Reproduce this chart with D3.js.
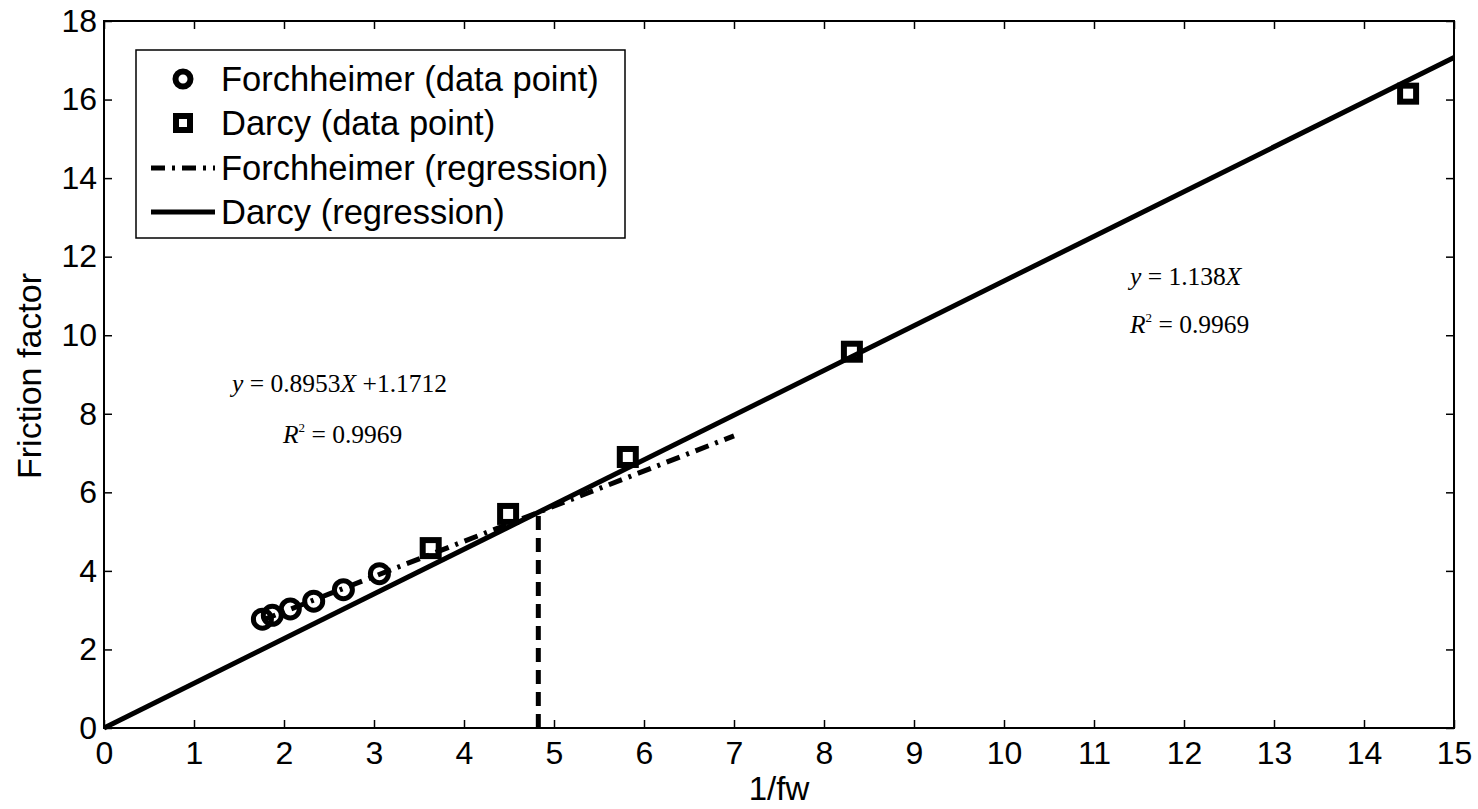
<!DOCTYPE html>
<html><head><meta charset="utf-8">
<script src="https://cdn.jsdelivr.net/npm/d3@7"></script>
<style>body{margin:0;background:#fff}</style>
</head><body>
<svg id="c" width="1478" height="809"></svg>
<script>
const forchX = [1.76, 1.87, 2.07, 2.33, 2.66, 3.06];
const forchY = [2.77, 2.87, 3.03, 3.23, 3.52, 3.93];
const darcyX = [3.63, 4.49, 5.82, 8.31, 14.49];
const darcyY = [4.58, 5.45, 6.90, 9.58, 16.15];
const darcySlope = 1.138;
const forchSlope = 0.8953, forchIntercept = 1.1712;
const forchRange = [1.76, 7.0];
const xTicks = d3.range(0, 16, 1);
const yTicks = d3.range(0, 19, 2);
const legendItems = ["Forchheimer (data point)", "Darcy (data point)", "Forchheimer (regression)", "Darcy (regression)"];

const svg = d3.select("#c");
const L = 104, R = 1454, T = 21, B = 728;
const x = d3.scaleLinear().domain([0, 15]).range([L, R]);
const y = d3.scaleLinear().domain([0, 18]).range([B, T]);
const font = "Arial, 'Liberation Sans', sans-serif";
const tickFont = 32;

// axes
const tl = 8;
svg.append("g").attr("transform", `translate(0,${B})`)
  .call(d3.axisBottom(x).tickValues(xTicks).tickSizeInner(-tl).tickSizeOuter(0).tickPadding(13))
  .call(g => g.select(".domain").remove())
  .call(g => g.selectAll("text").attr("font-size", tickFont).attr("font-family", font).attr("fill", "#000"));
svg.append("g").attr("transform", `translate(${L},0)`)
  .call(d3.axisLeft(y).tickValues(yTicks).tickSizeInner(-tl).tickSizeOuter(0).tickPadding(7))
  .call(g => g.select(".domain").remove())
  .call(g => g.selectAll("text").attr("font-size", tickFont).attr("font-family", font).attr("fill", "#000"));
svg.append("g").attr("transform", `translate(0,${T})`)
  .call(d3.axisTop(x).tickValues(xTicks).tickSizeInner(-tl).tickSizeOuter(0).tickFormat(""))
  .call(g => g.select(".domain").remove());
svg.append("g").attr("transform", `translate(${R},0)`)
  .call(d3.axisRight(y).tickValues(yTicks).tickSizeInner(-tl).tickSizeOuter(0).tickFormat(""))
  .call(g => g.select(".domain").remove());
svg.selectAll(".tick line").attr("stroke", "#000").attr("stroke-width", 1.5);
svg.append("rect").attr("x", L).attr("y", T).attr("width", R - L).attr("height", B - T)
  .attr("fill", "none").attr("stroke", "#000").attr("stroke-width", 2);

// axis labels
svg.append("text").attr("x", 779).attr("y", 800).attr("text-anchor", "middle")
  .attr("font-size", 33).attr("font-family", font).text("1/fw");
svg.append("text").attr("transform", `translate(41,376) rotate(-90)`).attr("text-anchor", "middle")
  .attr("font-size", 34).attr("font-family", font).text("Friction factor");

const line = d3.line().x(d => x(d[0])).y(d => y(d[1]));
// Darcy regression
svg.append("path").attr("d", line([[0, 0], [15, darcySlope * 15]]))
  .attr("stroke", "#000").attr("stroke-width", 5).attr("fill", "none");
// Forchheimer regression
svg.append("path").attr("d", line(forchRange.map(v => [v, forchSlope * v + forchIntercept])))
  .attr("stroke", "#000").attr("stroke-width", 5).attr("fill", "none").attr("stroke-dasharray", "14,7,3,7");
// vertical dashed line at intersection
const xi = forchIntercept / (darcySlope - forchSlope);
svg.append("path").attr("d", line([[xi, 0], [xi, darcySlope * xi]]))
  .attr("stroke", "#000").attr("stroke-width", 5).attr("fill", "none").attr("stroke-dasharray", "14,8");

// markers
svg.append("g").selectAll("circle").data(forchX.map((v, i) => [v, forchY[i]])).join("circle")
  .attr("cx", d => x(d[0])).attr("cy", d => y(d[1])).attr("r", 9)
  .attr("fill", "none").attr("stroke", "#000").attr("stroke-width", 5);
svg.append("g").selectAll("rect").data(darcyX.map((v, i) => [v, darcyY[i]])).join("rect")
  .attr("x", d => x(d[0]) - 8).attr("y", d => y(d[1]) - 8).attr("width", 16).attr("height", 16)
  .attr("fill", "none").attr("stroke", "#000").attr("stroke-width", 6);

// equations
const serif = "'Liberation Serif', 'Times New Roman', serif";
function eq(xp, yp, parts) {
  const t = svg.append("text").attr("x", xp).attr("y", yp).attr("font-family", serif).attr("font-size", 25.5);
  parts.forEach(p => {
    const s = t.append("tspan").text(p.t);
    if (p.i) s.attr("font-style", "italic");
    if (p.sup) s.attr("font-size", 13).attr("dy", -11);
    if (p.down) s.attr("dy", 11);
  });
}
eq(232, 392, [{t: "y", i: 1}, {t: " = 0.8953"}, {t: "X", i: 1}, {t: " +1.1712"}]);
eq(283, 443, [{t: "R", i: 1}, {t: "2", sup: 1}, {t: " = 0.9969", down: 1}]);
eq(1130, 285, [{t: "y", i: 1}, {t: " = 1.138"}, {t: "X", i: 1}]);
eq(1130, 333, [{t: "R", i: 1}, {t: "2", sup: 1}, {t: " = 0.9969", down: 1}]);

// legend
const lg = svg.append("g");
lg.append("rect").attr("x", 136).attr("y", 50).attr("width", 489).attr("height", 188)
  .attr("fill", "#fff").attr("stroke", "#000").attr("stroke-width", 1.5);
const rowY = [79, 123, 168, 212];
legendItems.forEach((txt, i) => {
  lg.append("text").attr("x", 221).attr("y", rowY[i]).attr("dy", "0.36em")
    .attr("font-size", 34.5).attr("font-family", font).text(txt);
});
lg.append("circle").attr("cx", 183).attr("cy", rowY[0]).attr("r", 7.5).attr("fill", "none").attr("stroke", "#000").attr("stroke-width", 6);
lg.append("rect").attr("x", 176).attr("y", rowY[1] - 7).attr("width", 14).attr("height", 14).attr("fill", "none").attr("stroke", "#000").attr("stroke-width", 6);
lg.append("line").attr("x1", 151).attr("x2", 215).attr("y1", rowY[2]).attr("y2", rowY[2])
  .attr("stroke", "#000").attr("stroke-width", 5).attr("stroke-dasharray", "14,7,3,7");
lg.append("line").attr("x1", 151).attr("x2", 215).attr("y1", rowY[3]).attr("y2", rowY[3])
  .attr("stroke", "#000").attr("stroke-width", 5);
</script>
</body></html>
